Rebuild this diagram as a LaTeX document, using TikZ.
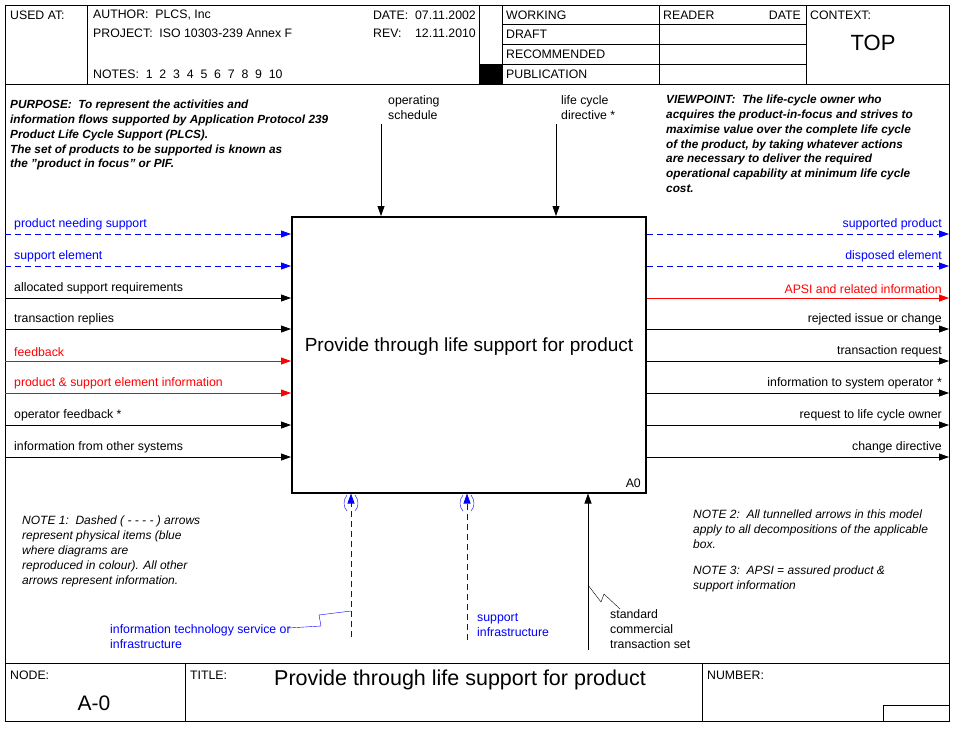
\documentclass[tikz,border=0pt]{standalone}
\usepackage{fontspec}
\setmainfont{Liberation Sans}[Ligatures=ResetAll]
\usetikzlibrary{arrows.meta}
\definecolor{physblue}{RGB}{0,0,255}
\definecolor{infored}{RGB}{255,0,0}
\tikzset{
  lbl/.style={font=\fontsize{12.3}{15}\selectfont, inner sep=0pt},
  note/.style={font=\fontsize{12}{14.8}\selectfont\itshape, inner sep=0pt, align=left},
  flow/.style={-{Triangle[length=10pt,width=7pt]}, line width=0.8pt},
  phys/.style={flow, physblue, dashed, dash pattern=on 6pt off 4pt},
}
\begin{document}
\begin{tikzpicture}[x=1pt,y=-1pt]
\useasboundingbox (0,0) rectangle (963,729);
\fill[white] (0,0) rectangle (963,729);

% frame, header and footer
\draw[line width=0.8pt] (5,5) rectangle (949,721);
\draw (5,84) -- (949,84);
\draw (87,5) -- (87,84);
\draw (479,5) -- (479,84);
\draw (502,5) -- (502,84);
\draw (659,5) -- (659,84);
\draw (806,5) -- (806,84);
\foreach \y in {24,44,64} \draw (502,\y) -- (806,\y);
\fill (479,64) rectangle (502,84);
\draw (5,663) -- (949,663);
\draw (185,663) -- (185,721);
\draw (702,663) -- (702,721);
\draw (883,721) -- (883,705) -- (949,705);

\node[lbl, anchor=west] (usedat) at (10,15) {USED AT:};
\node[lbl, anchor=west] (author) at (93,15) {AUTHOR:\ \ PLCS, Inc};
\node[lbl, anchor=west] (project) at (93,33) {PROJECT:\ \ ISO 10303-239 Annex F};
\node[lbl, anchor=west] (notes) at (93,74) {NOTES:\ \ 1\ \ 2\ \ 3\ \ 4\ \ 5\ \ 6\ \ 7\ \ 8\ \ 9\ \ 10};
\node[lbl, anchor=east] (date) at (476,15) {DATE:\ \ 07.11.2002};
\node[lbl, anchor=east] (rev) at (476,33) {REV:\ \ \ \ 12.11.2010};
\node[lbl, anchor=west] (working) at (506,15) {WORKING};
\node[lbl, anchor=west] (draft) at (506,34) {DRAFT};
\node[lbl, anchor=west] (recommended) at (506,54) {RECOMMENDED};
\node[lbl, anchor=west] (publication) at (506,74) {PUBLICATION};
\node[lbl, anchor=west] (reader) at (663,15) {READER};
\node[lbl, anchor=east] (rdate) at (801,15) {DATE};
\node[lbl, anchor=west] (context) at (810,15) {CONTEXT:};
\node[lbl, font=\fontsize{22}{26}\selectfont] (top) at (873,43) {TOP};

\node[lbl, anchor=west] (nodelbl) at (10,675) {NODE:};
\node[lbl, font=\fontsize{21}{25}\selectfont] (nodeno) at (94,703) {A-0};
\node[lbl, anchor=west] (titlelbl) at (190,675) {TITLE:};
\node[lbl, font=\fontsize{21.5}{25}\selectfont] (title) at (460,680) {Provide through life support for product};
\node[lbl, anchor=west] (numberlbl) at (707,675) {NUMBER:};

% activity box
\node[draw, line width=1.5pt, minimum width=354pt, minimum height=276pt,
  anchor=north west] (A0) at (291,216) {};
\node[lbl, font=\fontsize{19}{23}\selectfont] (A0text) at (469,347)
  {Provide through life support for product};
\node[lbl, anchor=south east] (a0no) at (641,488) {A0};

% inputs
\foreach \y/\st/\c/\t in {
  234/phys/physblue/product needing support,
  266/phys/physblue/support element,
  298/flow/black/allocated support requirements,
  329/flow/black/transaction replies,
  361/flow/infored/feedback,
  393/flow/infored/product \& support element information,
  425/flow/black/operator feedback *,
  457/flow/black/information from other systems} {
  \coordinate (in\y) at (5,\y);
  \draw[\st, draw=\c] (in\y) -- (A0.west |- in\y);
  \node[lbl, text=\c, anchor=south west] at (14,\y-4) {\t};
}

% outputs
\foreach \y/\st/\c/\t in {
  234/phys/physblue/supported product,
  266/phys/physblue/disposed element,
  298/flow/infored/APSI and related information,
  329/flow/black/rejected issue or change,
  361/flow/black/transaction request,
  393/flow/black/information to system operator *,
  425/flow/black/request to life cycle owner,
  457/flow/black/change directive} {
  \coordinate (out\y) at (949,\y);
  \draw[\st, draw=\c] (A0.east |- out\y) -- (out\y);
  \node[lbl, text=\c, anchor=south east] at (942,\y-4) {\t};
}

% controls
\coordinate (ctl1) at (381,124);
\coordinate (ctl2) at (556,124);
\draw[flow] (ctl1) -- (ctl1 |- A0.north);
\draw[flow] (ctl2) -- (ctl2 |- A0.north);
\node[lbl, anchor=north west, align=left] (ctl1lbl) at (388,95) {operating\\schedule};
\node[lbl, anchor=north west, align=left] (ctl2lbl) at (561,95) {life cycle\\directive *};

% mechanisms
\coordinate (mec1) at (351,637);
\coordinate (mec2) at (467,640);
\coordinate (mec3) at (588,650);
\draw[phys] (mec1) -- (mec1 |- A0.south);
\draw[phys] (mec2) -- (mec2 |- A0.south);
\draw[flow] (mec3) -- (mec3 |- A0.south);
\foreach \x in {351,467} {
  \draw[physblue] (\x-4,495) .. controls (\x-8,500) and (\x-8,507) .. (\x-4,511);
  \draw[physblue] (\x+4,495) .. controls (\x+8,500) and (\x+8,507) .. (\x+4,511);
}
\draw[physblue] (mec1 |- 0,611) -- (319,615) -- (321,626) -- (288,628);
\draw (mec3 |- 0,585) -- (601,602) -- (604,594) -- (620,609);
\node[lbl, text=physblue, anchor=north west, align=left] (mec1lbl) at (110,624) {information technology service or\\infrastructure};
\node[lbl, text=physblue, anchor=north west, align=left] (mec2lbl) at (477,613) {support\\infrastructure};
\node[lbl, anchor=north west, align=left] (mec3lbl) at (610,609) {standard\\commercial\\transaction set};

% notes
\node[note, font=\fontsize{11.8}{14.8}\selectfont\bfseries\itshape, anchor=north west] (purpose) at (10,100)
  {PURPOSE:\ \ To represent the activities and\\information flows supported by Application Protocol 239\\Product Life Cycle Support (PLCS).\\The set of products to be supported is known as\\the "product in focus" or PIF.};
\node[note, font=\fontsize{11.8}{14.8}\selectfont\bfseries\itshape, anchor=north west] (viewpoint) at (666,95)
  {VIEWPOINT:\ \ The life-cycle owner who\\acquires the product-in-focus and strives to\\maximise value over the complete life cycle\\of the product, by taking whatever actions\\are necessary to deliver the required\\operational capability at minimum life cycle\\cost.};
\node[note, anchor=north west] (note1) at (22,516)
  {NOTE 1:\ \ Dashed ( - - - - ) arrows\\represent physical items (blue\\where diagrams are\\reproduced in colour). All other\\arrows represent information.};
\node[note, anchor=north west] (note2) at (693,510)
  {NOTE 2:\ \ All tunnelled arrows in this model\\apply to all decompositions of the applicable\\box.};
\node[note, anchor=north west] (note3) at (693,566)
  {NOTE 3:\ \ APSI = assured product \&\\support information};
\end{tikzpicture}
\end{document}
